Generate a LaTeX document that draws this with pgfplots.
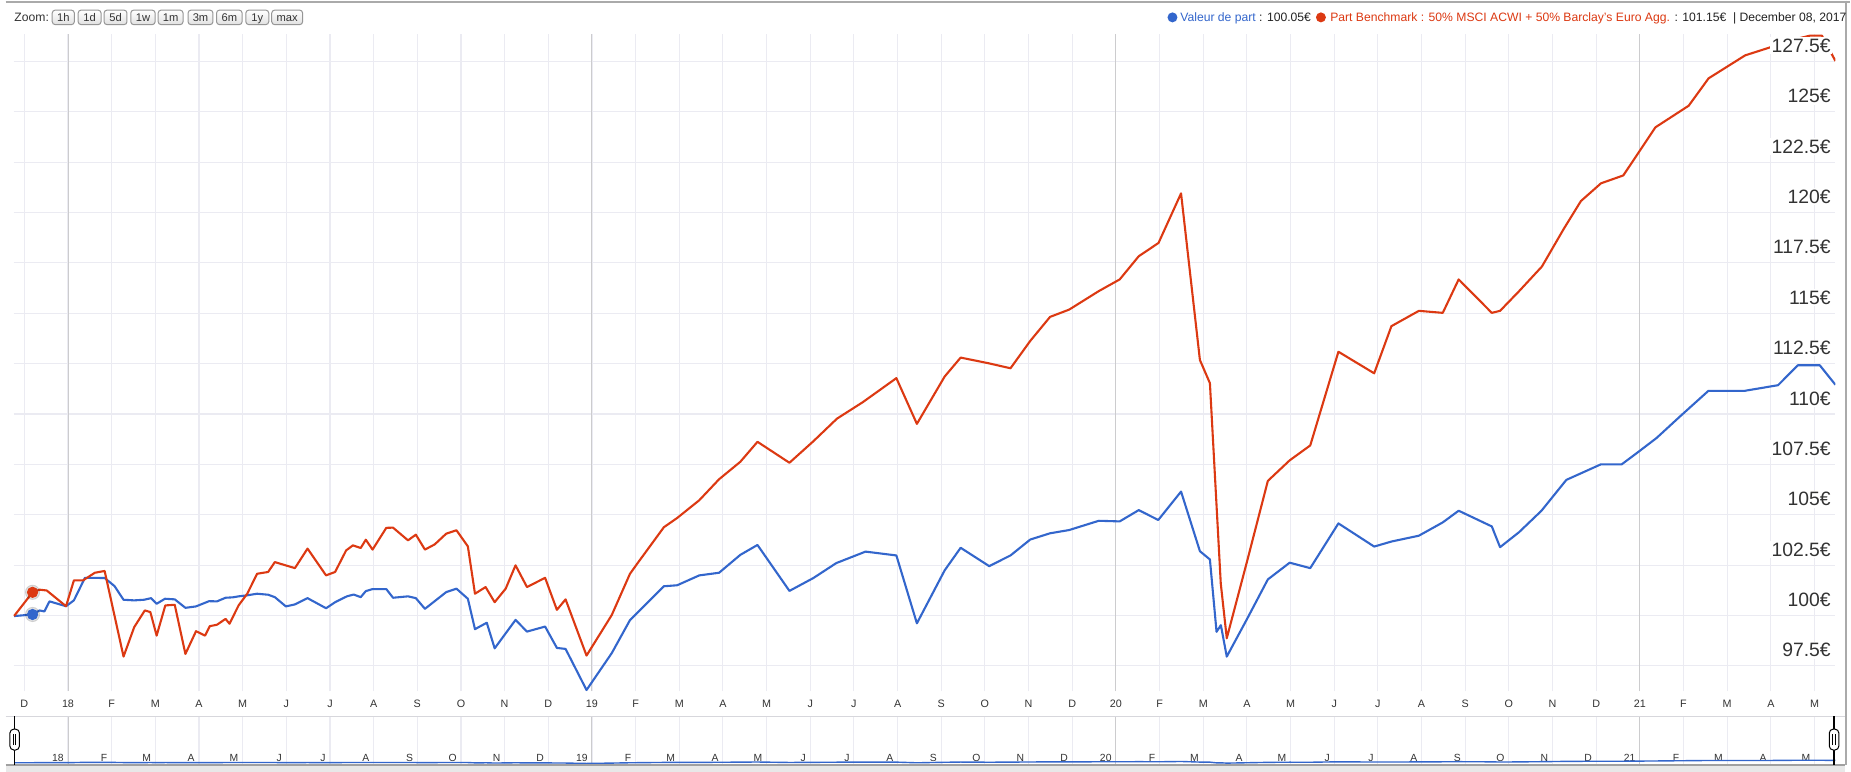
\documentclass[border=0pt]{standalone}
\usepackage{pgfplots}
\usepackage{pgfplotstable}
\pgfplotsset{compat=1.18}
\usepackage{fontspec}
\setmainfont{Liberation Sans}
\definecolor{gblue}{RGB}{51,102,204}
\definecolor{gred}{RGB}{220,57,18}
\definecolor{gridc}{RGB}{235,235,242}
\definecolor{yearc}{RGB}{204,204,206}
\definecolor{txt}{RGB}{51,51,51}
\definecolor{framec}{RGB}{170,170,170}

% x = months since 1 Jan 2018, v = value in EUR
\pgfplotstableread{
m v
-1.236 99.97
-0.812 101.15
-0.650 101.28
-0.487 101.24
-0.045 100.46
0.135 101.74
0.343 101.74
0.614 102.12
0.839 102.21
1.272 97.96
1.516 99.42
1.759 100.25
1.886 100.17
2.030 99.00
2.229 100.50
2.445 100.53
2.689 98.09
2.932 99.22
3.140 99.00
3.248 99.47
3.411 99.54
3.609 99.83
3.699 99.59
3.907 100.50
4.105 101.08
4.331 102.07
4.584 102.16
4.737 102.65
5.197 102.35
5.486 103.32
5.910 101.99
6.118 102.16
6.370 103.23
6.524 103.48
6.704 103.35
6.821 103.76
6.975 103.27
7.290 104.35
7.444 104.36
7.787 103.73
7.967 104.01
8.175 103.27
8.400 103.53
8.662 104.06
8.897 104.23
9.158 103.43
9.321 101.08
9.564 101.41
9.772 100.66
10.024 101.33
10.250 102.49
10.512 101.41
10.927 101.87
11.197 100.28
11.396 100.80
11.876 98.01
12.453 100.02
12.871 102.07
13.063 102.65
13.647 104.38
13.952 104.84
14.458 105.72
14.911 106.76
15.399 107.63
15.791 108.62
16.523 107.58
17.072 108.65
17.612 109.77
18.205 110.59
18.972 111.78
19.442 109.51
20.078 111.86
20.444 112.80
21.080 112.52
21.586 112.27
22.039 113.63
22.492 114.82
22.928 115.18
23.608 116.10
24.087 116.68
24.523 117.83
24.976 118.49
25.492 120.95
25.924 112.68
26.153 111.53
26.402 101.58
26.539 98.87
27.009 102.73
27.480 106.68
27.980 107.70
28.451 108.44
29.096 113.09
29.915 112.02
30.310 114.36
30.939 115.12
31.486 115.02
31.850 116.68
32.609 115.02
32.798 115.12
33.231 116.09
33.757 117.32
34.260 119.20
34.650 120.57
35.110 121.45
35.620 121.84
36.357 124.23
37.118 125.30
37.574 126.66
38.411 127.80
38.943 128.17
39.450 128.55
39.900 128.78
40.170 128.78
40.479 127.52
}\redtab

\pgfplotstableread{
m v
-1.236 99.97
-0.812 100.05
-0.650 100.25
-0.541 100.20
-0.424 100.70
-0.045 100.46
0.135 100.75
0.388 101.87
0.839 101.86
1.065 101.46
1.272 100.78
1.516 100.75
1.741 100.78
1.904 100.86
2.030 100.58
2.220 100.83
2.445 100.80
2.689 100.38
2.932 100.45
3.230 100.71
3.411 100.70
3.609 100.88
3.772 100.90
3.907 100.95
4.105 101.00
4.331 101.08
4.584 101.03
4.737 100.91
4.990 100.45
5.197 100.55
5.486 100.86
5.910 100.36
6.118 100.66
6.388 100.95
6.542 101.04
6.704 100.91
6.821 101.21
6.975 101.31
7.290 101.31
7.444 100.88
7.787 100.95
7.967 100.86
8.175 100.33
8.662 101.16
8.897 101.33
9.158 100.83
9.321 99.32
9.591 99.64
9.772 98.37
10.250 99.78
10.512 99.20
10.927 99.45
11.197 98.39
11.396 98.34
11.876 96.30
12.453 98.13
12.871 99.77
13.647 101.45
13.952 101.50
14.458 101.99
14.911 102.12
15.399 103.01
15.791 103.50
16.523 101.22
17.072 101.86
17.595 102.60
18.266 103.17
18.972 102.98
19.442 99.61
20.078 102.24
20.444 103.36
21.098 102.45
21.586 102.98
22.039 103.77
22.492 104.08
22.928 104.24
23.608 104.70
24.087 104.67
24.523 105.23
24.970 104.74
25.492 106.15
25.924 103.19
26.153 102.78
26.305 99.19
26.404 99.52
26.539 97.96
27.009 99.85
27.480 101.79
27.980 102.62
28.451 102.35
29.096 104.57
29.915 103.42
30.310 103.67
30.939 103.96
31.486 104.62
31.850 105.20
32.609 104.42
32.798 103.39
33.231 104.13
33.747 105.20
34.316 106.73
34.634 107.04
35.105 107.50
35.583 107.50
35.984 108.15
36.383 108.81
36.930 109.90
37.570 111.15
38.400 111.15
39.165 111.43
39.620 112.42
40.120 112.42
40.479 111.45
}\bluetab

\pgfplotstableread{
m v
-0.812 101.15
}\redmark
\pgfplotstableread{
m v
-0.812 100.05
}\bluemark

\begin{document}
\begin{tikzpicture}[x=1pt,y=1pt]
\fill[white] (0,0) rectangle (925.5,387);
% window frame
\draw[color=framec, line width=1pt] (0,386.5) -- (925.5,386.5);
\draw[color=framec, line width=0.75pt] (923.6,387) -- (923.6,3.5);

% ---------------- main chart ----------------
\begin{axis}[
  scale only axis, width=914.2pt, height=329.7pt,
  at={(4pt,40.5pt)}, anchor=south west,
  xmin=-1.244, xmax=40.48, ymin=96.24, ymax=128.85,
  axis line style={draw=none}, tick style={draw=none},
  xtick={-1,0,...,40},
  xticklabels={D,18,F,M,A,M,J,J,A,S,O,N,D,19,F,M,A,M,J,J,A,S,O,N,D,20,F,M,A,M,J,J,A,S,O,N,D,21,F,M,A,M},
  xticklabel style={font=\fontsize{5.4}{6}\selectfont, text=txt, anchor=base, yshift=-8.15pt, inner sep=0pt},
  ytick={97.5,100,102.5,105,107.5,110,112.5,115,117.5,120,122.5,125,127.5},
  yticklabels={},
  xmajorgrids, ymajorgrids,
  grid style={gridc, line width=0.55pt},
  extra x ticks={0,12,24,36}, extra x tick labels={},
  extra x tick style={grid style={yearc, line width=0.5pt}},
]
\addplot[gblue, line width=1.05pt, line join=round] table {\bluetab};
\addplot[gred, line width=1.05pt, line join=round] table {\redtab};
\addplot[only marks, mark=*, mark size=3.6pt, color=black, opacity=0.12] table {\redmark};
\addplot[only marks, mark=*, mark size=3.6pt, color=black, opacity=0.12] table {\bluemark};
\addplot[only marks, mark=*, mark size=2.6pt, color=gred] table {\redmark};
\addplot[only marks, mark=*, mark size=2.6pt, color=gblue] table {\bluemark};
\end{axis}

% overlay axis carrying the value labels on top of the lines
\begin{axis}[
  scale only axis, width=914.2pt, height=329.7pt,
  at={(4pt,40.5pt)}, anchor=south west,
  xmin=-1.244, xmax=40.48, ymin=96.24, ymax=128.85,
  axis line style={draw=none}, tick style={draw=none},
  xtick=\empty,
  ytick={97.5,100,102.5,105,107.5,110,112.5,115,117.5,120,122.5,125,127.5},
  yticklabels={97.5€,100€,102.5€,105€,107.5€,110€,112.5€,115€,117.5€,120€,122.5€,125€,127.5€},
  yticklabel pos=right,
  yticklabel style={anchor=base east, xshift=-1.4pt, yshift=4.5pt, font=\fontsize{9.7}{10}\selectfont, text=txt, fill=white, inner sep=0.8pt},
]
\end{axis}

% ---------------- navigator ----------------
\fill[color={rgb,255:red,232;green,232;blue,232}] (0,0) rectangle (923.2,3.5);
\begin{axis}[
  scale only axis, width=914.2pt, height=24.5pt,
  at={(4pt,3.5pt)}, anchor=south west,
  xmin=-1.244, xmax=40.48, ymin=88.7, ymax=333.7,
  axis line style={draw=none}, tick style={draw=none},
  xtick={0,...,40},
  xticklabels={18,F,M,A,M,J,J,A,S,O,N,D,19,F,M,A,M,J,J,A,S,O,N,D,20,F,M,A,M,J,J,A,S,O,N,D,21,F,M,A,M},
  xticklabel style={font=\fontsize{5.2}{6}\selectfont, text=txt, anchor=base east, xshift=-2pt, yshift=1.6pt, inner sep=0pt},
  ytick=\empty,
  xmajorgrids, grid style={gridc, line width=0.55pt},
  extra x ticks={0,12,24,36}, extra x tick labels={},
  extra x tick style={grid style={yearc, line width=0.5pt}},
]
\addplot[gblue, line width=0.7pt] table {\bluetab};
\end{axis}
\draw[color={rgb,255:red,215;green,215;blue,220}, line width=0.6pt] (0,28) -- (923.2,28);
\draw[color={rgb,255:red,160;green,160;blue,160}, line width=0.6pt] (0,3.5) -- (923.2,3.5);
% handles
\foreach \hx in {4.5,917.5}{
  \draw[black, line width=0.6pt] (\hx,3.5) -- (\hx,28);
  \draw[black, line width=0.5pt, fill=white, rounded corners=2pt] (\hx-2.4,11) rectangle (\hx+2.4,21.5);
  \draw[black, line width=0.4pt] (\hx-0.6,13.5) -- (\hx-0.6,19);
  \draw[black, line width=0.4pt] (\hx+0.6,13.5) -- (\hx+0.6,19);
}

% ---------------- header ----------------
\node[anchor=base west, inner sep=0pt, text=txt, font=\fontsize{6.1}{7}\selectfont] at (4.2,376.65) {Zoom:};
\foreach \xa/\xb/\lab in {23.35/34.45/1h, 36.35/47.85/1d, 49.35/60.85/5d, 62.75/75/1w, 76.5/89/1m, 91.5/104/3m, 105.8/118.65/6m, 120.5/132/1y, 133.5/149/max}{
  \draw[color={rgb,255:red,150;green,150;blue,150}, line width=0.5pt, top color=white, bottom color={rgb,255:red,225;green,225;blue,225}, rounded corners=1.5pt] (\xa,375) rectangle (\xb,382.3);
  \node[anchor=base, inner sep=0pt, text=txt, font=\fontsize{5.6}{6}\selectfont] at ({(\xa+\xb)/2},376.7) {\lab};
}
% legend
\fill[gblue] (585.5,378.65) circle (2.5pt);
\node[anchor=base west, inner sep=0pt, text={rgb,255:red,34;green,34;blue,34}, font=\fontsize{6.1}{7}\selectfont] at (589.25,376.65) {\textcolor{gblue}{Valeur de part} : 100.05€};
\fill[gred] (660,378.65) circle (2.5pt);
\node[anchor=base west, inner sep=0pt, text={rgb,255:red,34;green,34;blue,34}, font=\fontsize{6.1}{7}\selectfont] at (664.5,376.65) {\textcolor{gred}{Part Benchmark : 50\% MSCI ACWI + 50\% Barclay's Euro Agg.} : 101.15€ \ | December 08, 2017};
\end{tikzpicture}
\end{document}
